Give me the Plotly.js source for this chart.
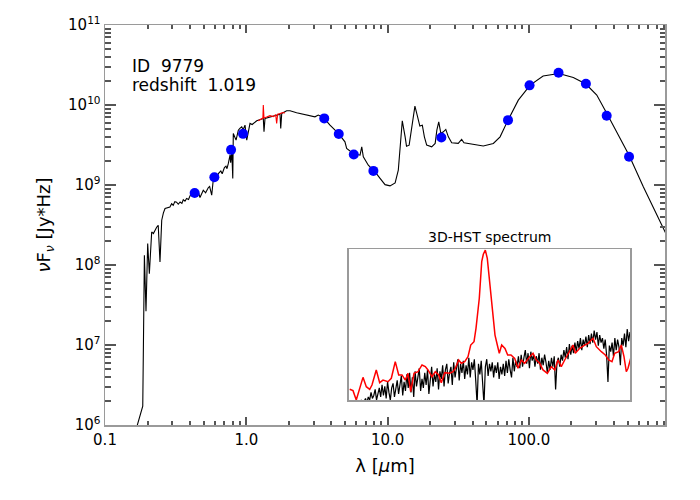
<!DOCTYPE html>
<html>
<head>
<meta charset="utf-8">
<script src="https://cdn.plot.ly/plotly-3.0.1.min.js"></script>
<style>
  html, body { margin: 0; padding: 0; background: #fff; }
  #chart { width: 700px; height: 500px; }
</style>
</head>
<body>
<div id="chart"></div>
<script>
// SED model (black line), lambda in micron, nuFnu in Jy*Hz
var sedLam = [0.165, 0.185, 0.190, 0.195, 0.2005, 0.206, 0.214, 0.220, 0.232, 0.238,
  0.245, 0.252, 0.259, 0.266, 0.288, 0.296, 0.304, 0.312, 0.321, 0.330,
  0.340, 0.350, 0.358, 0.368, 0.378, 0.390, 0.400, 0.410, 0.422, 0.440,
  0.457, 0.470, 0.496, 0.515, 0.539, 0.550, 0.569, 0.584, 0.600, 0.615,
  0.634, 0.660, 0.675, 0.687, 0.700, 0.718, 0.730, 0.746, 0.755, 0.767,
  0.775, 0.789, 0.802, 0.809, 0.846, 0.878, 0.900, 0.928, 0.950, 0.979,
  1.007, 1.062, 1.100, 1.185, 1.319, 1.334, 1.356, 1.552, 1.732, 1.752,
  1.781, 1.93, 2.04, 2.27, 2.82, 3.06, 3.23, 3.51, 3.91, 4.48,
  4.99, 5.13, 5.71, 6.38, 6.56, 6.73, 7.30, 8.15, 8.84, 9.59,
  10.4, 11.3, 11.9, 12.4, 12.7, 13.3, 13.6, 14.2, 14.8, 15.6,
  16.3, 16.9, 17.6, 18.2, 18.9, 20.5, 21.7, 22.3, 23.0, 23.8,
  24.8, 25.8, 26.9, 28.4, 31.6, 33.4, 34.7, 40.4, 47.5, 56.0,
  62.5, 71.1, 84.1, 102, 126, 163, 206, 253, 302, 356,
  418, 511, 646, 908, 1000];
var sedFlux = [8.5e5, 1.72e6, 1.32e8, 2.64e7, 1.85e8, 7.8e7, 2.59e8, 2.47e8, 2.97e8, 3.14e8,
  1.09e8, 3.63e8, 4.48e8, 5.08e8, 5.32e8, 5.83e8, 5.58e8, 6.2e8, 6.09e8, 5.75e8,
  6.14e8, 5.9e8, 6.55e8, 6.27e8, 6.78e8, 6.6e8, 7.35e8, 7.8e8, 7.83e8, 7.4e8,
  8.2e8, 6.98e8, 8.61e8, 8.0e8, 9.31e8, 9.6e8, 7.45e8, 1.17e9, 1.25e9, 1.18e9,
  1.39e9, 1.5e9, 1.38e9, 1.53e9, 1.65e9, 1.72e9, 1.6e9, 1.86e9, 2.1e9, 2.36e9,
  1.9e9, 2.73e9, 1.21e9, 4.41e9, 3.64e9, 4.85e9, 5.1e9, 5.34e9, 4.9e9, 5.6e9,
  3.64e9, 5.89e9, 5.7e9, 6.35e9, 6.8e9, 4.62e9, 6.8e9, 7.26e9, 7.69e9, 5.1e9,
  7.85e9, 8.46e9, 8.46e9, 7.98e9, 7.26e9, 7.12e9, 7.48e9, 7.0e9, 5.6e9, 4.41e9,
  3.46e9, 2.86e9, 2.48e9, 2.36e9, 3.0e9, 2.25e9, 1.77e9, 1.46e9, 1.21e9, 1.01e9,
  9.75e8, 1.06e9, 1.53e9, 3.31e9, 6.35e9, 4.0e9, 3.06e9, 3.15e9, 5.34e9, 9.69e9,
  7.12e9, 5.45e9, 5.6e9, 4.0e9, 3.15e9, 3.0e9, 3.31e9, 4.85e9, 6.17e9, 4.41e9,
  4.62e9, 4.95e9, 4.0e9, 3.37e9, 3.31e9, 3.71e9, 3.37e9, 3.21e9, 3.08e9, 3.31e9,
  4.0e9, 6.47e9, 1.15e10, 1.77e10, 2.30e10, 2.48e10, 2.21e10, 1.83e10, 1.33e10, 7.85e9,
  4.62e9, 2.36e9, 9.46e8, 2.72e8, 1.9e8];

// grism spectrum scaled onto the SED (red)
var specLam = [1.216, 1.27, 1.31, 1.319, 1.334, 1.393, 1.47, 1.552, 1.614, 1.64, 1.666, 1.732, 1.82, 1.88];
var specFlux = [6.35e9, 6.56e9, 6.86e9, 1.0e10, 6.86e9, 7.06e9, 7.36e9, 7.16e9, 7.58e9, 5.89e9, 7.69e9, 7.8e9, 8.04e9, 7.93e9];

// photometry (blue)
var photLam = [0.431, 0.594, 0.78, 0.948, 3.56, 4.51, 5.76, 7.93, 24.0, 71.1, 101, 162, 253, 355, 511];
var photFlux = [7.96e8, 1.25e9, 2.75e9, 4.36e9, 6.8e9, 4.33e9, 2.41e9, 1.50e9, 3.93e9, 6.47e9, 1.76e10, 2.53e10, 1.84e10, 7.33e9, 2.25e9];

// inset: 3D-HST spectrum (red) and model (black), arbitrary flux units
var insetRedLam = [1.0813, 1.0873, 1.0932, 1.1054, 1.1114, 1.1176, 1.1217, 1.1295, 1.1357, 1.1417,
  1.1508, 1.1568, 1.1640, 1.1702, 1.1762, 1.1822, 1.1871, 1.1920, 1.1980, 1.2052,
  1.2125, 1.2185, 1.2234, 1.2306, 1.2366, 1.2428, 1.2475, 1.2537, 1.2628, 1.2688,
  1.2729, 1.2791, 1.2838, 1.2900, 1.2960, 1.3009, 1.3069, 1.3105, 1.3165, 1.3209,
  1.3238, 1.3274, 1.3310, 1.3359, 1.3408, 1.3450, 1.3492, 1.3528, 1.3571, 1.3631,
  1.3680, 1.3740, 1.3807, 1.3867, 1.3927, 1.3989, 1.4080, 1.4140, 1.4200, 1.4261,
  1.4321, 1.4400, 1.4472, 1.4534, 1.4593, 1.4653, 1.4715, 1.4806, 1.4866, 1.4907,
  1.4987, 1.5078, 1.5138, 1.5229, 1.5289, 1.5380, 1.5452, 1.5514, 1.5573, 1.5622,
  1.5695, 1.5742, 1.5791, 1.5833, 1.5864, 1.5913];
var insetRedFlux = [7.1, 6.2, 0, 15.0, 8.8, 7.1, 9.9, 19.9, 11.5, 13.2,
  12.1, 14.4, 25.4, 16.6, 16.6, 13.2, 17.7, 5.5, 17.7, 18.7,
  23.2, 22.1, 19.9, 15.4, 18.7, 16.6, 11.5, 18.1, 17.7, 18.7,
  21.0, 26.5, 24.3, 25.4, 28.7, 36.4, 38.6, 47.5, 67.4, 91.6,
  96.5, 99.3, 93.8, 76.2, 56.3, 43.0, 36.4, 30.9, 36.4, 34.2,
  29.8, 29.8, 27.6, 21.0, 26.5, 24.3, 28.7, 30.9, 26.5, 24.3,
  19.9, 17.7, 22.1, 19.9, 26.5, 22.1, 26.5, 32.0, 36.4, 30.9,
  34.2, 36.4, 37.5, 40.9, 35.3, 32.0, 29.8, 26.5, 25.4, 30.9,
  32.0, 36.4, 28.7, 18.7, 21.0, 27.6];
var insetBlkLam = [
  1.0925, 1.0950, 1.0975, 1.1000, 1.1025, 1.1050, 1.1075, 1.1100, 1.1125, 1.1150,
  1.1175, 1.1200, 1.1225, 1.1250, 1.1275, 1.1300, 1.1325, 1.1350, 1.1375, 1.1400,
  1.1425, 1.1450, 1.1475, 1.1500, 1.1525, 1.1550, 1.1575, 1.1600, 1.1625, 1.1650,
  1.1675, 1.1700, 1.1725, 1.1750, 1.1775, 1.1800, 1.1825, 1.1850, 1.1875, 1.1900,
  1.1925, 1.1950, 1.1975, 1.2000, 1.2025, 1.2050, 1.2075, 1.2100, 1.2125, 1.2150,
  1.2175, 1.2200, 1.2225, 1.2250, 1.2275, 1.2300, 1.2325, 1.2350, 1.2375, 1.2400,
  1.2425, 1.2450, 1.2475, 1.2500, 1.2525, 1.2550, 1.2575, 1.2600, 1.2625, 1.2650,
  1.2675, 1.2700, 1.2725, 1.2750, 1.2775, 1.2800, 1.2825, 1.2850, 1.2875, 1.2900,
  1.2925, 1.2950, 1.2975, 1.3000, 1.3025, 1.3050, 1.3075, 1.3100, 1.3125, 1.3150,
  1.3175, 1.3200, 1.3225, 1.3250, 1.3275, 1.3300, 1.3325, 1.3350, 1.3375, 1.3400,
  1.3425, 1.3450, 1.3475, 1.3500, 1.3525, 1.3550, 1.3575, 1.3600, 1.3625, 1.3650,
  1.3675, 1.3700, 1.3725, 1.3750, 1.3775, 1.3800, 1.3825, 1.3850, 1.3875, 1.3900,
  1.3925, 1.3950, 1.3975, 1.4000, 1.4025, 1.4050, 1.4075, 1.4100, 1.4125, 1.4150,
  1.4175, 1.4200, 1.4225, 1.4250, 1.4275, 1.4300, 1.4325, 1.4350, 1.4375, 1.4400,
  1.4425, 1.4450, 1.4475, 1.4500, 1.4525, 1.4550, 1.4575, 1.4600, 1.4625, 1.4650,
  1.4675, 1.4700, 1.4725, 1.4750, 1.4775, 1.4800, 1.4825, 1.4850, 1.4875, 1.4900,
  1.4925, 1.4950, 1.4975, 1.5000, 1.5025, 1.5050, 1.5075, 1.5100, 1.5125, 1.5150,
  1.5175, 1.5200, 1.5225, 1.5250, 1.5275, 1.5300, 1.5325, 1.5350, 1.5375, 1.5400,
  1.5425, 1.5450, 1.5475, 1.5500, 1.5525, 1.5550, 1.5575, 1.5600, 1.5625, 1.5650,
  1.5675, 1.5700, 1.5725, 1.5750, 1.5775, 1.5800, 1.5825, 1.5850, 1.5875, 1.5900];
var insetBlkFlux = [
  -3, -1, -4, -2, 0, -3, -1, 1, -2, 2,
  0, 5, 1, 3, 7, 0, 4, 8, 2, 10,
  3, 9, 1, 12, 5, 0, 8, 11, 2, 7,
  13, 4, 10, 16, 3, 12, 6, 17, 8, 18,
  5, 15, 2, 19, 9, 16, 21, 6, 14, 8,
  18, 10, 20, 4, 15, 22, 9, 17, 12, 21,
  7, 19, 14, 23, 9, 20, 24, 11, 18, 22,
  10, 25, 15, 21, 27, 13, 24, 18, 26, 14,
  23, 17, 28, 15, 25, 20, 27, 13, -3, 24,
  17, 26, 15, -3, 22, 27, 16, 24, 19, 25,
  15, 23, 18, 25, 14, 22, 17, 24, 16, 26,
  18, 27, 20, 15, 28, 19, 26, 22, 29, 21,
  30, 22, 28, 33, 24, 31, 21, 32, 26, 30,
  22, 29, 24, 31, 20, 28, 23, 30, 25, 18,
  26, 20, 28, 22, 29, 7, 25, 28, 22, 30,
  26, 33, 28, 35, 27, 37, 30, 36, 31, 38,
  32, 39, 34, 41, 33, 40, 36, 42, 35, 43,
  37, 44, 38, 46, 40, 45, 36, 43, 38, 41,
  34, 40, 30, 12, 36, 32, 38, 29, 41, 33,
  40, 35, 23, 41, 36, 44, 35, 47, 39, 45];

var xMajor = [0.1, 1, 10, 100];
var xMajorText = ["0.1", "1.0", "10.0", "100.0"];
var xMinor = [0.2, 0.3, 0.4, 0.5, 0.6, 0.7, 0.8, 0.9, 2, 3, 4, 5, 6, 7, 8, 9,
  20, 30, 40, 50, 60, 70, 80, 90, 200, 300, 400, 500, 600, 700, 800, 900];
var yMajor = [1e6, 1e7, 1e8, 1e9, 1e10, 1e11];
var yMajorText = ["10<sup>6</sup>", "10<sup>7</sup>", "10<sup>8</sup>", "10<sup>9</sup>", "10<sup>10</sup>", "10<sup>11</sup>"];
var yMinor = [2e6, 3e6, 4e6, 5e6, 6e6, 7e6, 8e6, 9e6,
  2e7, 3e7, 4e7, 5e7, 6e7, 7e7, 8e7, 9e7,
  2e8, 3e8, 4e8, 5e8, 6e8, 7e8, 8e8, 9e8,
  2e9, 3e9, 4e9, 5e9, 6e9, 7e9, 8e9, 9e9,
  2e10, 3e10, 4e10, 5e10, 6e10, 7e10, 8e10, 9e10];

// ticks come out faint in grey, so they are drawn darker than the frame
var AX = "#9a9a9a", TK = "#555555", FONT = "DejaVu Sans, sans-serif";
var XR = [-1, Math.log10(918)], YR = [6, 11];

var traces = [
  { x: sedLam, y: sedFlux, mode: "lines", line: { color: "#000", width: 1.1 }, hoverinfo: "skip" },
  { x: specLam, y: specFlux, mode: "lines", line: { color: "#ff0000", width: 1.1 }, hoverinfo: "skip" },
  { x: photLam, y: photFlux, mode: "markers", marker: { color: "#0000ff", size: 10 } },
  { x: insetBlkLam, y: insetBlkFlux, xaxis: "x2", yaxis: "y2", mode: "lines", line: { color: "#000", width: 1.2 } },
  { x: insetRedLam, y: insetRedFlux, xaxis: "x2", yaxis: "y2", mode: "lines", line: { color: "#ff0000", width: 1.5 } },
  // empty trace so the minor-tick overlay axes get drawn
  { x: [], y: [], xaxis: "x3", yaxis: "y3", mode: "lines", hoverinfo: "skip" }
];

var layout = {
  width: 700, height: 500,
  margin: { l: 105, r: 35, t: 25, b: 75 },
  showlegend: false,
  font: { family: FONT, size: 15, color: "#000" },
  xaxis: {
    type: "log", range: XR,
    showline: true, linecolor: AX, linewidth: 1.5, mirror: "ticks",
    showgrid: false, zeroline: false,
    tickmode: "array", tickvals: xMajor, ticktext: xMajorText,
    ticks: "inside", ticklen: 8, tickcolor: TK, tickwidth: 2,
    tickfont: { size: 15 },
    title: { text: "λ [<i>μ</i>m]", font: { size: 18 }, standoff: 12 }
  },
  yaxis: {
    type: "log", range: YR,
    showline: true, linecolor: AX, linewidth: 1.5, mirror: "ticks",
    showgrid: false, zeroline: false,
    tickmode: "array", tickvals: yMajor, ticktext: yMajorText,
    ticks: "inside", ticklen: 11, tickcolor: TK, tickwidth: 2,
    tickfont: { size: 15 },
    title: { text: "<i>ν</i>F<sub><i>ν</i></sub> [Jy*Hz]", font: { size: 18 }, standoff: 12 }
  },
  // minor ticks: overlay axes sharing the main ranges
  xaxis3: {
    type: "log", range: XR, overlaying: "x", anchor: "y3",
    mirror: "ticks", showgrid: false, zeroline: false,
    tickmode: "array", tickvals: xMinor, showticklabels: false,
    ticks: "inside", ticklen: 4, tickcolor: TK, tickwidth: 2
  },
  yaxis3: {
    type: "log", range: YR, overlaying: "y", anchor: "x3",
    mirror: "ticks", showgrid: false, zeroline: false,
    tickmode: "array", tickvals: yMinor, showticklabels: false,
    ticks: "inside", ticklen: 5.5, tickcolor: TK, tickwidth: 2
  },
  xaxis2: {
    domain: [0.4357, 0.9375], anchor: "y2", range: [1.08, 1.59],
    showline: true, linecolor: AX, linewidth: 1.5, mirror: true,
    showgrid: false, zeroline: false, showticklabels: false, ticks: ""
  },
  yaxis2: {
    domain: [0.0625, 0.44], anchor: "x2", range: [0, 100],
    showline: true, linecolor: AX, linewidth: 1.5, mirror: true,
    showgrid: false, zeroline: false, showticklabels: false, ticks: ""
  },
  annotations: [
    { xref: "paper", yref: "paper", x: 0.045, y: 0.898, xanchor: "left", yanchor: "middle",
      text: "ID\u00a0\u00a09779", showarrow: false, font: { size: 17 } },
    { xref: "paper", yref: "paper", x: 0.045, y: 0.85, xanchor: "left", yanchor: "middle",
      text: "redshift\u00a0\u00a01.019", showarrow: false, font: { size: 17 } },
    { xref: "paper", yref: "paper", x: 0.6866, y: 0.47, xanchor: "center", yanchor: "middle",
      text: "3D-HST spectrum", showarrow: false, font: { size: 14 } }
  ]
};

Plotly.newPlot("chart", traces, layout, { displayModeBar: false, staticPlot: true });
</script>
</body>
</html>
